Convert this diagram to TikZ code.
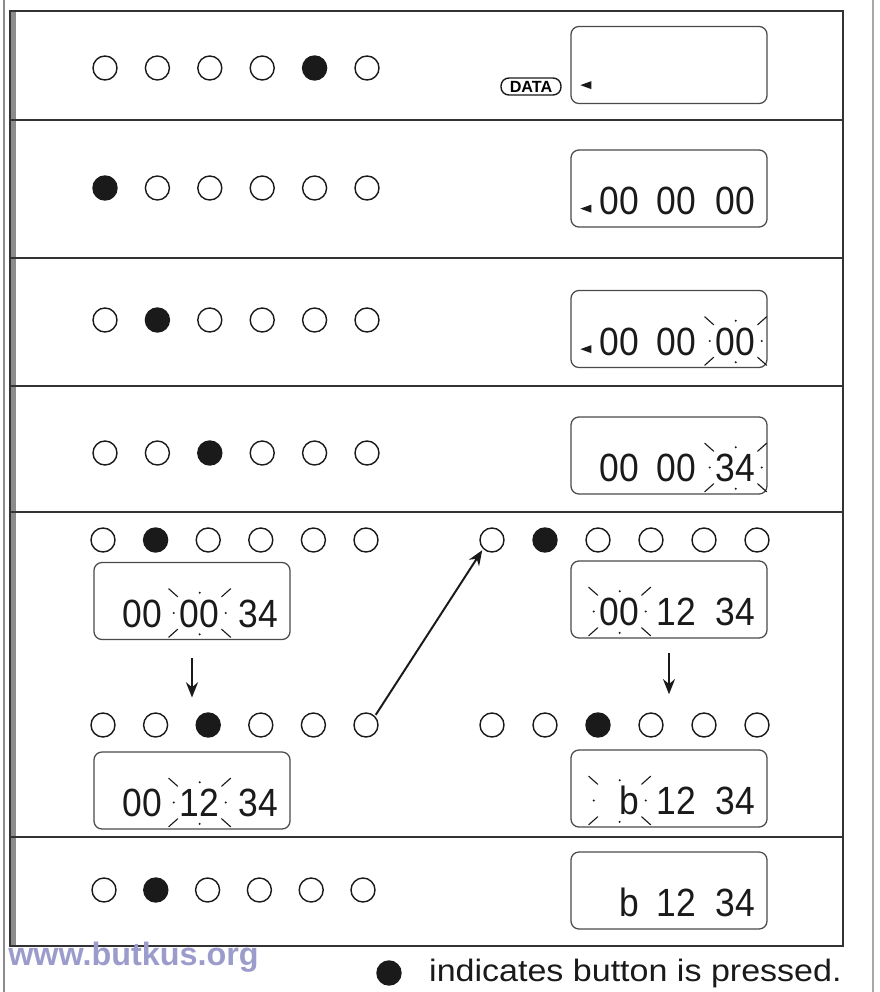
\documentclass[tikz,border=0pt]{standalone}
\usepackage{fontspec}
\setsansfont{Liberation Sans}
\newfontfamily\lcdfont[FakeStretch=0.9]{Liberation Sans}
\newfontfamily\keyfont[FakeStretch=1.1]{Liberation Sans}
\usetikzlibrary{arrows.meta, positioning}
\definecolor{inkblack}{HTML}{1A1A1A}
\definecolor{framegray}{HTML}{333333}
\definecolor{lcdgray}{HTML}{4A4A4A}
\definecolor{shadowgray}{HTML}{8C8C8C}
\definecolor{edgegray}{HTML}{A8A8A8}
\definecolor{sitelilac}{HTML}{9C9CCC}
\tikzset{
	btn/.style={circle, draw=inkblack, line width=1pt, minimum size=0.6cm, inner sep=0pt},
	btnon/.style={btn, fill=inkblack},
	lcd/.style={draw=lcdgray, line width=0.9pt, rounded corners=0.2cm,
		minimum width=4.9cm, minimum height=1.925cm, inner sep=0pt},
	digits/.style={font=\lcdfont\fontsize{28}{30}\selectfont, text=inkblack,
		inner sep=0pt, text height=0.7cm, text depth=0pt},
	ray/.style={draw=inkblack, line width=0.8pt, line cap=round},
	marr/.style={-{Stealth[length=3.8mm, width=3mm]}, line width=1.4pt, draw=inkblack},
	datakey/.style={draw=inkblack, line width=1pt, rounded corners=0.2cm,
		font=\sffamily\bfseries\fontsize{11.5}{12}\selectfont,
		minimum width=1.5cm, minimum height=0.425cm, inner sep=1pt},
	panelline/.style={draw=framegray, line width=1.4pt}
}
% one row of six buttons, #5 is the pressed one
\newcommand{\buttonrow}[5]{%
	\foreach \i in {1,...,6}{%
		\ifnum\i=#5\relax
			\node[btnon] (#1\i) at ({#2+(\i-1)*#3},#4) {};
		\else
			\node[btn] (#1\i) at ({#2+(\i-1)*#3},#4) {};
		\fi
	}%
}
\newcommand{\lcdshow}[4]{%
	\node[digits] (#1a) at ([shift={(-148,12)}]#1.east) {#2};
	\node[digits] (#1b) at ([shift={(-91,12)}]#1.east) {#3};
	\node[digits] (#1c) at ([shift={(-32,12)}]#1.east) {#4};
}
\newcommand{\lcdpointer}[1]{%
	\fill[inkblack] ([shift={(10,-19)}]#1.south west) -- ++(11,-4) -- ++(0,8) -- cycle;
}
\newcommand{\flashmark}[1]{%
	\draw[ray] ([shift={(-2,-2)}]#1.north west) -- ++(-9,-8);
	\draw[ray] ([shift={(-2,2)}]#1.south west) -- ++(-9,8);
	\draw[ray] ([shift={(2,-2)}]#1.north east) -- ++(9,-8);
	\draw[ray] ([shift={(2,2)}]#1.south east) -- ++(9,8);
	\fill[inkblack] ([shift={(0,-6)}]#1.north) circle (0.8pt);
	\fill[inkblack] ([shift={(0,7)}]#1.south) circle (0.8pt);
	\fill[inkblack] ([shift={(-6,0)}]#1.west) circle (0.8pt);
	\fill[inkblack] ([shift={(6,0)}]#1.east) circle (0.8pt);
}

\begin{document}
\begin{tikzpicture}[x=0.025cm, y=-0.025cm, node distance=0.5cm and 0.5cm]
	\useasboundingbox (0,0) rectangle (880,992);
	% frame
	\draw[line width=1.4pt, draw=shadowgray] (4,0) -- (4,992);
	\draw[line width=1.2pt, draw=edgegray] (873,0) -- (873,992);
	\fill[shadowgray] (10,11) rectangle (16,946);
	\draw[panelline] (10,11) rectangle (843,946);
	\foreach \y in {120,258,386,512,837}
		\draw[panelline] (10,\y) -- (843,\y);

	\buttonrow{pa}{105}{52.4}{68}{5}
	\buttonrow{pb}{105}{52.4}{188}{1}
	\buttonrow{pc}{105}{52.4}{320}{2}
	\buttonrow{pd}{105}{52.4}{453}{3}
	\buttonrow{pe}{103}{52.6}{540}{2}
	\buttonrow{pf}{492}{53}{540}{2}
	\buttonrow{pg}{103}{52.6}{725}{3}
	\buttonrow{ph}{492}{53}{725}{3}
	\buttonrow{pk}{104}{51.8}{890}{2}

	\node[lcd] (lcd1) at (669,65) {};
	\node[lcd] (lcd2) at (669,188.5) {};
	\node[lcd] (lcd3) at (669,329) {};
	\node[lcd] (lcd4) at (669,455.5) {};
	\node[lcd] (lcd5) at (192,601) {};
	\node[lcd] (lcd6) at (669,599.5) {};
	\node[lcd] (lcd7) at (192,790.5) {};
	\node[lcd] (lcd8) at (669,788.5) {};
	\node[lcd] (lcd9) at (669,890.5) {};

	\node[datakey] (data) at (531,86.5) {DATA};
	\lcdpointer{lcd1}
	\lcdpointer{lcd2}
	\lcdpointer{lcd3}
	\lcdshow{lcd2}{00}{00}{00}
	\lcdshow{lcd3}{00}{00}{00}
	\lcdshow{lcd4}{00}{00}{34}
	\lcdshow{lcd5}{00}{00}{34}
	\lcdshow{lcd6}{00}{12}{34}
	\lcdshow{lcd7}{00}{12}{34}
	\lcdshow{lcd8}{\hphantom{0}b}{12}{34}
	\lcdshow{lcd9}{\hphantom{0}b}{12}{34}
	\flashmark{lcd3c}
	\flashmark{lcd4c}
	\flashmark{lcd5b}
	\flashmark{lcd6a}
	\flashmark{lcd7b}
	\flashmark{lcd8a}

	\draw[marr, shorten <=0.45cm, shorten >=0.37cm] (lcd5.south) -- (lcd5.south |- pg1.north);
	\draw[marr, shorten <=0.37cm, shorten >=0.45cm] (lcd6.south) -- (lcd6.south |- ph1.north);
	\draw[marr, shorten <=1pt, shorten >=1pt] (pg6.north east) -- (pf1.south west);

	\node[btnon] (key) at (389,973) {};
	\node[font=\keyfont\fontsize{22}{24}\selectfont, text=inkblack, inner sep=0pt,
		right=0.68cm of key] (keytext) {indicates button is pressed.};
	\node[font=\sffamily\bfseries\fontsize{23}{25}\selectfont, text=sitelilac,
		anchor=west, inner sep=0pt] (site) at (8,957) {www.butkus.org};
\end{tikzpicture}
\end{document}
